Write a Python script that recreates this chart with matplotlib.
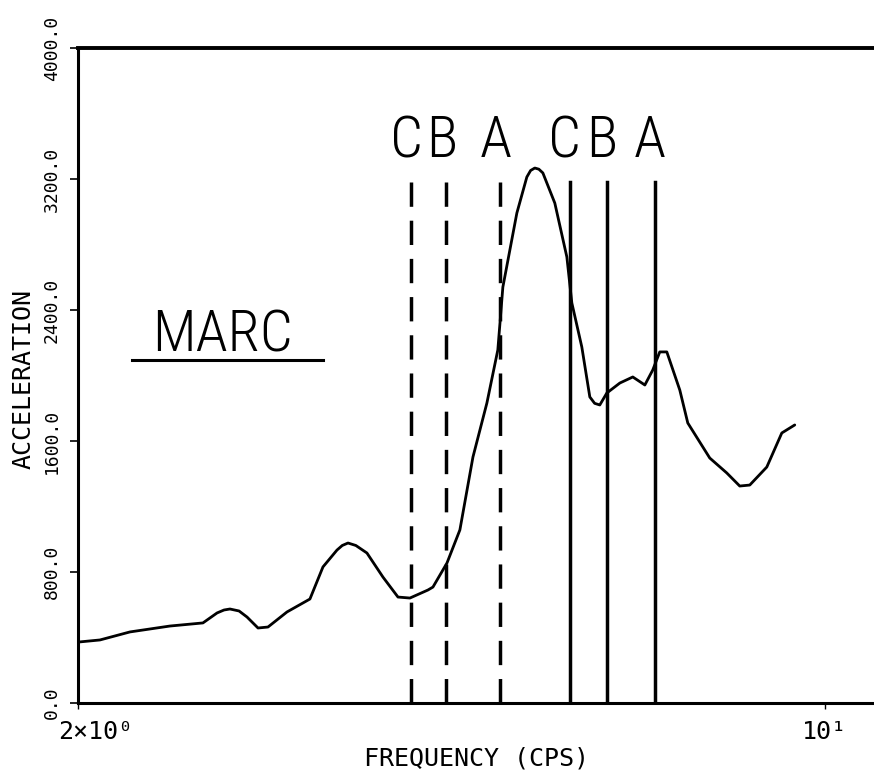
import matplotlib
matplotlib.use('Agg')
import matplotlib.pyplot as plt
import matplotlib.transforms as mtransforms
from matplotlib.ticker import NullLocator

# spectrum (frequency in cps, acceleration)
freq = [2.000, 2.097, 2.237, 2.438, 2.618, 2.699, 2.740, 2.775, 2.830, 2.879,
        2.948, 3.012, 3.138, 3.297, 3.391, 3.495, 3.535, 3.579, 3.640, 3.728,
        3.859, 3.986, 4.090, 4.252, 4.298, 4.430, 4.555, 4.685, 4.828, 4.943,
        4.997, 5.150, 5.262, 5.305, 5.353, 5.400, 5.447, 5.589, 5.736, 5.798,
        5.924, 6.027, 6.090, 6.158, 6.252, 6.430, 6.612, 6.786, 6.903, 7.008,
        7.115, 7.317, 7.444, 7.805, 8.096, 8.326, 8.508, 8.826, 9.116, 9.374]
accel = [372, 385, 434, 470, 489, 550, 568, 574, 562, 525,
         458, 464, 556, 635, 831, 934, 962, 977, 962, 916,
         769, 647, 641, 690, 708, 855, 1057, 1502, 1832, 2156,
         2540, 2992, 3212, 3252, 3267, 3260, 3237, 3053, 2724, 2443,
         2174, 1869, 1830, 1820, 1893, 1954, 1991, 1942, 2034, 2144,
         2144, 1911, 1710, 1496, 1405, 1325, 1331, 1441, 1649, 1698]

# marker lines
dashed_freq = [4.10, 4.42, 4.97]
solid_freq = [5.77, 6.25, 6.93]
line_labels = ['C', 'B', 'A']
line_top = 3180

yticks = [0, 800, 1600, 2400, 3200, 4000]
ytick_labels = ['0.0', '800.0', '1600.0', '2400.0', '3200.0', '4000.0']
xticks = [2, 10]
xtick_labels = ['2×10⁰', '10¹']

mono = ['DejaVu Sans Mono', 'DejaVu Sans']
thin = ['Roboto Condensed', 'DejaVu Sans Mono']
plt.rcParams['font.family'] = mono

fig = plt.figure(figsize=(8.74, 7.75), dpi=100)
ax = fig.add_axes([78 / 874, 72 / 775, 796 / 874, 655 / 775])

ax.plot(freq, accel, color='black', linewidth=2.0,
        solid_capstyle='round', solid_joinstyle='round')

for f in dashed_freq:
    ax.plot([f, f], [line_top, 0], color='black', linewidth=2.5,
            dashes=(7, 4.0))
for f in solid_freq:
    ax.plot([f, f], [line_top, 0], color='black', linewidth=2.5)

for f, lab in zip(dashed_freq + solid_freq, line_labels * 2):
    ax.text(f * 0.99, 3334, lab, fontsize=42, ha='center', va='baseline',
            color='black', family=thin, weight='light')

# MARC title with underline
ax.text(2.734, 2144, 'MARC', fontsize=42, ha='center', va='baseline',
        family=thin, weight='light')
ax.plot([2.247, 3.391], [2095, 2095], color='black', linewidth=2.2)

ax.set_xscale('log')
ax.set_xlim(2, 11.12)
ax.set_ylim(0, 4000)

ax.set_yticks(yticks)
ax.set_yticklabels(ytick_labels, rotation=90, va='center', fontsize=13)
ax.yaxis.set_minor_locator(NullLocator())
ax.tick_params(axis='y', length=6, width=1.2, pad=6.5, direction='out')

ax.set_xticks(xticks)
ax.set_xticklabels(xtick_labels, fontsize=18)
ax.xaxis.set_minor_locator(NullLocator())
ax.tick_params(axis='x', length=4, width=1, pad=8, direction='out')
first = ax.get_xticklabels()[0]
first.set_transform(first.get_transform() +
                    mtransforms.ScaledTranslation(13 / 72, 0, fig.dpi_scale_trans))

ax.spines['right'].set_visible(False)
ax.spines['top'].set_linewidth(2.8)
ax.spines['left'].set_linewidth(2.2)
ax.spines['bottom'].set_linewidth(2.2)

ax.set_ylabel('ACCELERATION', fontsize=18, va='center')
ax.yaxis.set_label_coords(-0.069, 0.495)
ax.set_xlabel('FREQUENCY (CPS)', fontsize=18, va='center')
ax.xaxis.set_label_coords(0.5, -0.084)

fig.savefig('out.png', dpi=100)
plt.close(fig)
